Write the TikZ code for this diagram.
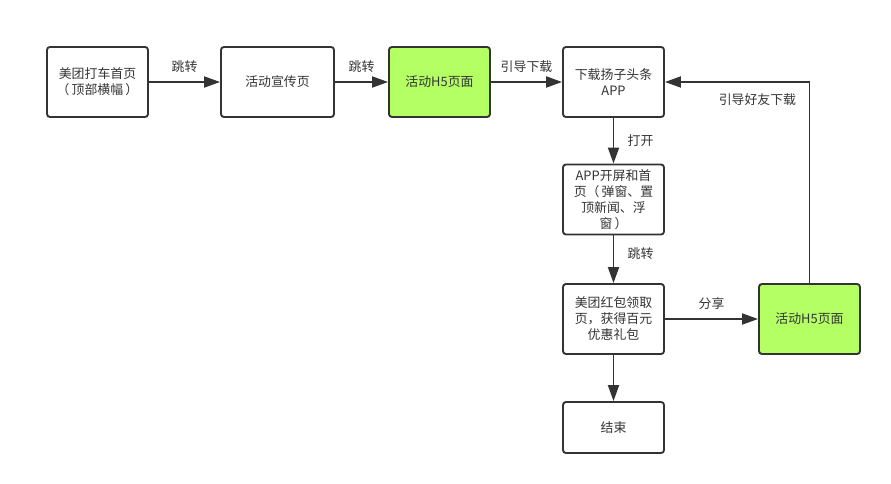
\documentclass[tikz,border=0pt]{standalone}
\usepackage{fontspec}
\setmainfont{Noto Sans CJK SC}
\usetikzlibrary{arrows.meta}
\definecolor{hgreen}{RGB}{180,255,100}
\definecolor{dgray}{RGB}{51,51,51}
\tikzset{
  box/.style={draw=dgray,line width=1.6pt,rounded corners=2.5pt,inner sep=0pt,
              minimum width=3.03cm,minimum height=2.1cm,align=center,
              text=dgray,font=\fontsize{11}{13.6}\selectfont},
  hfive/.style={box,fill=hgreen},
  lbl/.style={text=dgray,font=\fontsize{11}{13.6}\selectfont},
  arr/.style={draw=dgray,line width=1.6pt,-{Triangle[length=0.48cm,width=0.33cm]}}
}

\begin{document}
\begin{tikzpicture}[x=0.03cm,y=-0.03cm]
       \useasboundingbox (0,0) rectangle (891,484);
       \node[box]   (home)   at ( 97.5, 82)   {美团打车首页\\（\,顶部横幅\,）};
       \node[box,minimum width=3.39cm] (promo) at (277.5, 82) {活动宣传页};
       \node[hfive] (hfa)    at (439.5, 82)   {活动H5页面};
       \node[box]   (dl)     at (613.5, 82)   {下载扬子头条\\APP};
       \node[box]   (splash) at (613.5,199.5) {APP开屏和首\\页（\,弹窗、置\\顶新闻、浮\\窗\,）};
       \node[box]   (packet) at (613.5,319)   {美团红包领取\\页，获得百元\\优惠礼包};
       \node[hfive] (hfb)    at (809.5,319)   {活动H5页面};
       \node[box,minimum height=1.53cm] (fin) at (613.5,427.5) {结束};
       \draw[arr] (home)   -- node[lbl,above=4pt] {跳转}     (promo);
       \draw[arr] (promo)  -- node[lbl,above=4pt] {跳转}     (hfa);
       \draw[arr] (hfa)    -- node[lbl,above=4pt] {引导下载} (dl);
       \draw[arr] (dl)     -- node[lbl,right=8pt] {打开}     (splash);
       \draw[arr] (splash) -- node[lbl,right=8pt,yshift=5pt] {跳转} (packet);
       \draw[arr] (packet) -- node[lbl,above=4pt] {分享}     (hfb);
       \draw[arr] (packet) -- (fin);
       \draw[arr] (hfb.north) |- node[lbl,pos=0.68,below=6pt] {引导好友下载} (dl.east);
      \end{tikzpicture}
\end{document}
